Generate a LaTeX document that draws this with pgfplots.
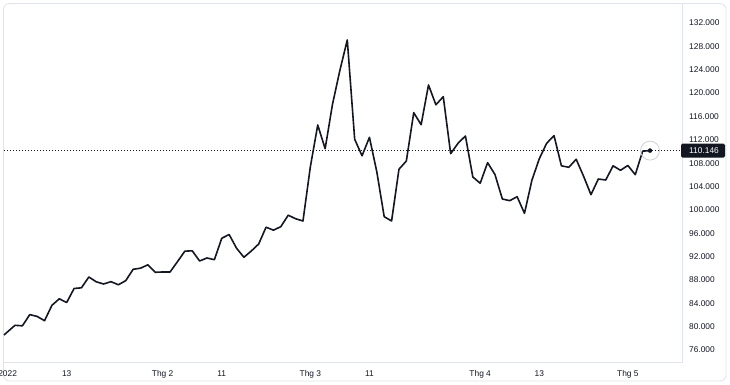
\documentclass[border=0pt]{standalone}
\usepackage{pgfplots}
\pgfplotsset{compat=1.18}
\usepackage{fontspec}
\setmainfont{Liberation Sans}
\definecolor{ink}{RGB}{19,23,34}
\definecolor{sep}{RGB}{224,227,235}
\definecolor{ringc}{RGB}{205,208,215}
\begin{document}
\begin{tikzpicture}
\useasboundingbox (0,0) rectangle (730bp,385bp);
\fill[white] (0,0) rectangle (730bp,385bp);
\draw[sep, line width=0.8bp, rounded corners=6bp] (3.5bp,4bp) rectangle (726bp,381.5bp);
\begin{axis}[
  at={(4bp,23bp)}, anchor=south west,
  scale only axis, width=678bp, height=358bp,
  xmin=-0.49, xmax=91.33, ymin=73.945, ymax=135.25,
  clip=false,
  axis line style={draw=none},
  major tick length=0pt,
  /pgf/number format/assume math mode=true,
  xtick={0,8,21,29,41,49,64,72,84},
  xticklabels={2022,13,Thg 2,11,Thg 3,11,Thg 4,13,Thg 5},
  ytick={76,80,84,88,92,96,100,104,108,112,116,120,124,128,132},
  yticklabels={76.000,80.000,84.000,88.000,92.000,96.000,100.000,104.000,108.000,112.000,116.000,120.000,124.000,128.000,132.000},
  yticklabel pos=right,
  xticklabel style={font=\fontsize{8.4}{10}\selectfont, text=ink, anchor=base, inner sep=0pt, yshift=-14bp},
  yticklabel style={font=\fontsize{8.4}{10}\selectfont, text=ink, anchor=west, inner sep=0pt, xshift=7bp},
]
\draw[sep, line width=0.8bp] (rel axis cs:0,0) -- (rel axis cs:1,0) -- (rel axis cs:1,1);
\draw[ink, dash pattern=on 1bp off 2bp, line width=0.8bp] (axis cs:-0.49,110.146) -- (axis cs:91.33,110.146);
\addplot[ink, line width=1.6bp, line join=round, mark=none] table {
x y
-0.49 78.57
0 79.12
1 80.23
2 80.14
3 82.06
4 81.75
5 81.02
6 83.65
7 84.77
8 84.13
9 86.53
10 86.65
11 88.50
12 87.68
13 87.30
14 87.70
15 87.17
16 87.88
17 89.82
18 90.01
19 90.59
20 89.31
21 89.36
22 89.36
23 91.12
24 92.92
25 92.99
26 91.24
27 91.76
28 91.46
29 95.13
30 95.78
31 93.43
32 91.88
33 92.95
34 94.15
35 97.03
36 96.52
37 97.12
38 99.08
39 98.48
40 98.09
41 107.39
42 114.53
43 110.47
44 118.09
45 123.90
46 129.09
47 112.10
48 109.26
49 112.42
50 106.50
51 98.83
52 98.09
53 106.95
54 108.37
55 116.64
56 114.58
57 121.38
58 117.99
59 119.38
60 109.62
61 111.40
62 112.65
63 105.63
64 104.55
65 108.08
66 106.05
67 101.86
68 101.57
69 102.25
70 99.41
71 105.06
72 108.74
73 111.40
74 112.70
75 107.54
76 107.29
77 108.66
78 105.76
79 102.60
80 105.28
81 105.11
82 107.54
83 106.77
84 107.60
85 106.02
86 110.05
87 110.146
};
\addplot[only marks, mark=o, mark size=9.5bp, mark options={draw=ringc, line width=0.8bp, fill=none}] coordinates {(87,110.146)};
\addplot[only marks, mark=*, mark size=2bp, mark options={fill=ink, draw=ink}] coordinates {(87,110.146)};
\coordinate (pl) at (axis cs:91.33,110.146);
\end{axis}
\fill[ink, rounded corners=1.5bp] ([xshift=-1bp,yshift=-7bp]pl) rectangle ([xshift=43bp,yshift=7bp]pl);
\node[anchor=west, inner sep=0pt, text=white, font=\fontsize{8.4}{10}\selectfont] at ([xshift=7bp]pl) {110.146};
\end{tikzpicture}
\end{document}
